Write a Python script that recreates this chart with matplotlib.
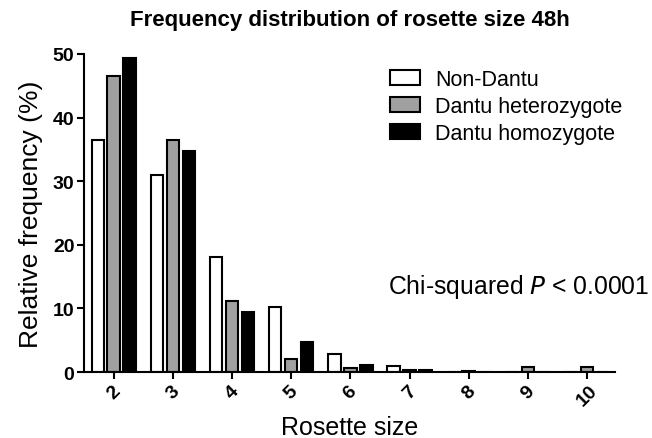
import matplotlib
matplotlib.use("Agg")
import matplotlib.pyplot as plt
import numpy as np

plt.rcParams['font.family'] = ['Liberation Sans', 'DejaVu Sans']

sizes = [2, 3, 4, 5, 6, 7, 8, 9, 10]
non_dantu = [36.4, 30.9, 18.1, 10.2, 2.8, 1.0, 0.0, 0.0, 0.0]
dantu_het = [46.6, 36.5, 11.1, 2.0, 0.7, 0.3, 0.2, 0.8, 0.8]
dantu_hom = [49.4, 34.8, 9.4, 4.8, 1.1, 0.3, 0.0, 0.0, 0.0]
series = [("Non-Dantu", non_dantu, "white"),
          ("Dantu heterozygote", dantu_het, "#a0a0a0"),
          ("Dantu homozygote", dantu_hom, "black")]

fig = plt.figure(figsize=(6.52, 4.39), dpi=100)
ax = fig.add_axes([0.129, 0.150, 0.814, 0.725])

x = np.array(sizes, dtype=float)
offset = 0.27
width = 0.21
for i, (name, vals, col) in enumerate(series):
    ax.bar(x + (i - 1) * offset, vals, width=width, color=col,
           edgecolor="black", linewidth=1.5, label=name)

ax.set_xlim(1.5, 10.47)
ax.set_ylim(0, 50)
ax.set_xticks(sizes)
ax.set_xticklabels([str(s) for s in sizes], rotation=45, fontweight='bold', fontsize=14)
ax.set_yticks([0, 10, 20, 30, 40, 50])
ax.set_yticklabels(["0", "10", "20", "30", "40", "50"], fontweight='bold', fontsize=14)
for s in ["top", "right"]:
    ax.spines[s].set_visible(False)
for s in ["left", "bottom"]:
    ax.spines[s].set_linewidth(1.5)
ax.tick_params(width=1.5, length=5, pad=2)

fig.text(0.129 + 0.814 / 2, 1 - 435 / 439, "Rosette size", fontsize=18,
         ha='center', va='baseline')
ax.set_ylabel("Relative frequency (%)", fontsize=19, labelpad=7)
ax.set_title("Frequency distribution of rosette size 48h", fontsize=16, fontweight='bold', pad=21)

ax.legend(loc="upper left", bbox_to_anchor=(0.539, 1.012), frameon=False, fontsize=15.5,
          handlelength=1.4, handleheight=0.7, labelspacing=0.28, handletextpad=0.7)
ax.text(0.572, 0.27, r"Chi-squared $\it{P}$ < 0.0001", transform=ax.transAxes,
        fontsize=17.8, va='center')

fig.savefig("out.png", dpi=100)
